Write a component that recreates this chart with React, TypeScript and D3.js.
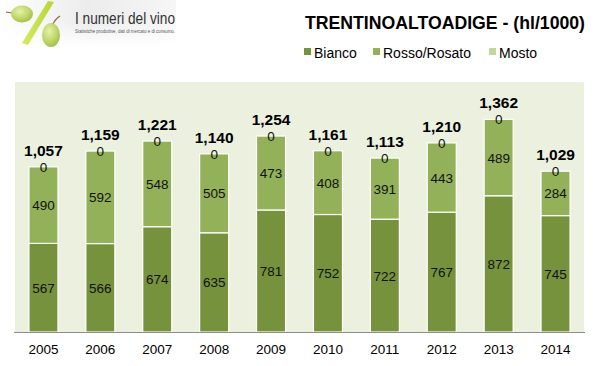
import React from "react";
import * as d3 from "d3";

const years = ["2005","2006","2007","2008","2009","2010","2011","2012","2013","2014"];
const bianco = [567,566,674,635,781,752,722,767,872,745];
const rosso = [490,592,548,505,473,408,391,443,489,284];
const mosto = [0,0,0,0,0,0,0,0,0,0];
const totals = [1057,1159,1221,1140,1254,1161,1113,1210,1362,1029];
const seriesNames = ["Bianco","Rosso/Rosato","Mosto"];
const colors = ["#77923c","#93b158","#c3d69b"];

export default function App() {
  const W = 599, H = 366;
  const x = d3.scaleBand<string>().domain(years).range([15, 584]).paddingInner(0.49).paddingOuter(0.245);
  const y = d3.scaleLinear().domain([0, 1600]).range([332, 82]);
  const rows = years.map((yr, i) => ({ year: yr, Bianco: bianco[i], "Rosso/Rosato": rosso[i], Mosto: mosto[i] }));
  const stack = d3.stack<any>().keys(seriesNames)(rows);
  const fmt = d3.format(",");
  const bw = x.bandwidth();
  const legendX = [304, 373, 489];
  return (
    <svg width={W} height={H} style={{ position: "absolute", left: 0, top: 0, background: "#fff" }} fontFamily="Liberation Sans, Arial, sans-serif">
      <defs>
        <linearGradient id="logoBg" x1="0" y1="0" x2="1" y2="0">
          <stop offset="0" stopColor="#ffffff" />
          <stop offset="0.5" stopColor="#ececec" />
          <stop offset="1" stopColor="#f6f6f6" />
        </linearGradient>
        <linearGradient id="logoFade" x1="0" y1="0" x2="0" y2="1">
          <stop offset="0" stopColor="#fff" stopOpacity="0" />
          <stop offset="1" stopColor="#fff" stopOpacity="1" />
        </linearGradient>
        <radialGradient id="grape" cx="0.4" cy="0.35" r="0.7">
          <stop offset="0" stopColor="#e6f2a8" />
          <stop offset="0.6" stopColor="#bfd66a" />
          <stop offset="1" stopColor="#9fbb45" />
        </radialGradient>
        <linearGradient id="slash" x1="0" y1="0" x2="1" y2="0">
          <stop offset="0" stopColor="#d6ec62" />
          <stop offset="1" stopColor="#b6d43a" />
        </linearGradient>
      </defs>
      {/* logo */}
      <rect x={0} y={0} width={176} height={46} fill="url(#logoBg)" />
      <rect x={0} y={22} width={176} height={24} fill="url(#logoFade)" />
      <line x1={6} y1={12} x2={12} y2={13} stroke="#8a6a3a" strokeWidth={1.2} />
      <ellipse cx={22} cy={14} rx={11} ry={8.5} fill="url(#grape)" />
      <polygon points="48,1 54,2 28,45 22,43" fill="url(#slash)" />
      <path d="M52,26 Q55,19 60,16" stroke="#8a6a3a" strokeWidth={1.2} fill="none" />
      <ellipse cx={51} cy={35} rx={9} ry={12} fill="url(#grape)" />
      <text x={75} y={24} fontSize={16.5} fill="#333" textLength={100} lengthAdjust="spacingAndGlyphs">I numeri del vino</text>
      <text x={75} y={33} fontSize={4.5} fill="#555" textLength={100} lengthAdjust="spacingAndGlyphs">Statistiche produttive, dati di mercato e di consumo.</text>
      {/* title */}
      <text x={305} y={29} fontSize={18} fontWeight="bold" fill="#000" textLength={280} lengthAdjust="spacingAndGlyphs">TRENTINOALTOADIGE - (hl/1000)</text>
      {/* legend */}
      {seriesNames.map((s, i) => (
        <g key={s}>
          <rect x={legendX[i]} y={48} width={7} height={7} fill={colors[i]} />
          <text x={legendX[i] + 10} y={58} fontSize={14} fill="#000">{s}</text>
        </g>
      ))}
      {/* plot area */}
      <rect x={15} y={82} width={569} height={250} fill="#ebf0df" />
      {stack.map((layer, si) =>
        layer.map((d, i) => {
          const y0 = y(d[0]), y1 = y(d[1]);
          return (
            <rect key={`${si}-${i}`} x={x(years[i])!} y={y1} width={bw} height={Math.max(0, y0 - y1)}
              fill={colors[si]} stroke="#fff" strokeWidth={1.2} />
          );
        })
      )}
      {stack.map((layer, si) =>
        layer.map((d, i) => {
          const cy = (y(d[0]) + y(d[1])) / 2;
          return (
            <text key={`l${si}-${i}`} x={x(years[i])! + bw / 2} y={cy + 5} textAnchor="middle" fontSize={13.5} fill="#111">
              {fmt(d[1] - d[0])}
            </text>
          );
        })
      )}
      {totals.map((t, i) => (
        <text key={`t${i}`} x={x(years[i])! + bw / 2} y={y(t) - 11} textAnchor="middle" fontSize={15.5} fontWeight="bold" fill="#000">
          {fmt(t)}
        </text>
      ))}
      <line x1={14} x2={585} y1={332.5} y2={332.5} stroke="#8c8c8c" strokeWidth={1.2} />
      {years.map((yr) => (
        <text key={yr} x={x(yr)! + bw / 2} y={354} textAnchor="middle" fontSize={13.5} fill="#000">{yr}</text>
      ))}
    </svg>
  );
}
